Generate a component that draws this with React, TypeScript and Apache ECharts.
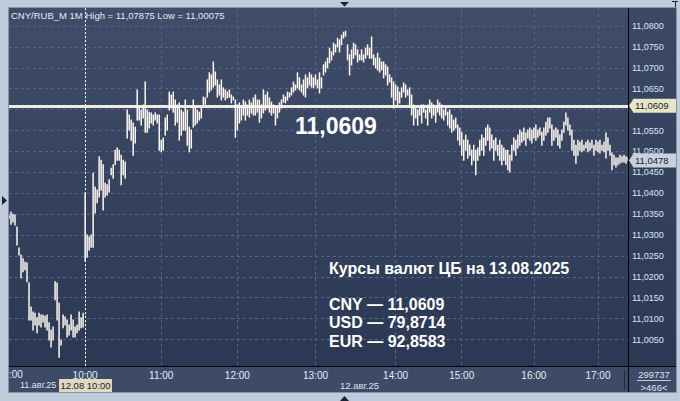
import React, { useEffect, useRef } from 'react';
import * as echarts from 'echarts';

// ---------- data ----------
const pairName = 'CNY/RUB_M';
const timeframe = '1M';
const dayHigh = 11.07875;
const dayLow = 11.00075;
const lastPrice = 11.0478;

const hourLabels = ['23:00', '10:00', '11:00', '12:00', '13:00', '14:00', '15:00', '16:00', '17:00'];
const barsPerHour = [38, 38, 38, 39, 40, 33, 36, 32, 16];
const cutHourLabel = ':00';

const highs = [
  // 23h (prev. day)
  11.0346, 11.0355, 11.0350, 11.0348, 11.0319, 11.0269, 11.0252, 11.0243, 11.0235, 11.0233,
  11.0185, 11.0128, 11.0116, 11.0113, 11.0102, 11.0113, 11.0109, 11.0109, 11.0106, 11.0109,
  11.0090, 11.0073, 11.0080, 11.0188, 11.0185, 11.0137, 11.0049, 11.0109, 11.0104, 11.0097,
  11.0085, 11.0109, 11.0097, 11.0080, 11.0085, 11.0116, 11.0102, 11.0113,
  // 10h
  11.0400, 11.0300, 11.0295, 11.0300, 11.0448, 11.0415, 11.0408, 11.0487, 11.0479, 11.0468,
  11.0424, 11.0420, 11.0432, 11.0460, 11.0468, 11.0503, 11.0508, 11.0503, 11.0491, 11.0479,
  11.0475, 11.0599, 11.0587, 11.0575, 11.0568, 11.0558, 11.0647, 11.0606, 11.0599, 11.0611,
  11.0666, 11.0599, 11.0594, 11.0592, 11.0587, 11.0592, 11.0587, 11.0587,
  // 11h
  11.0527, 11.0532, 11.0580, 11.0587, 11.0642, 11.0635, 11.0642, 11.0623, 11.0611, 11.0616,
  11.0599, 11.0594, 11.0623, 11.0599, 11.0558, 11.0551, 11.0623, 11.0604, 11.0599, 11.0594,
  11.0604, 11.0630, 11.0628, 11.0671, 11.0688, 11.0683, 11.0714, 11.0690, 11.0671, 11.0659,
  11.0671, 11.0652, 11.0647, 11.0642, 11.0647, 11.0635, 11.0630, 11.0623,
  // 12h
  11.0611, 11.0616, 11.0604, 11.0623, 11.0618, 11.0611, 11.0623, 11.0616, 11.0628, 11.0635,
  11.0623, 11.0623, 11.0611, 11.0647, 11.0635, 11.0642, 11.0628, 11.0618, 11.0611, 11.0606,
  11.0604, 11.0616, 11.0623, 11.0635, 11.0630, 11.0642, 11.0640, 11.0652, 11.0666, 11.0659,
  11.0688, 11.0676, 11.0659, 11.0671, 11.0683, 11.0676, 11.0688, 11.0683, 11.0676,
  // 13h
  11.0683, 11.0671, 11.0688, 11.0676, 11.0707, 11.0714, 11.0723, 11.0747, 11.0738, 11.0759,
  11.0755, 11.0771, 11.0767, 11.0778, 11.0785, 11.07875, 11.0755, 11.0731, 11.0743, 11.0759,
  11.0755, 11.0743, 11.0731, 11.0743, 11.0731, 11.0747, 11.0755, 11.0747, 11.0774, 11.0731,
  11.0723, 11.0735, 11.0723, 11.0714, 11.0714, 11.0707, 11.0702, 11.0683, 11.0676, 11.0666,
  // 14h
  11.0659, 11.0654, 11.0642, 11.0652, 11.0664, 11.0659, 11.0647, 11.0652, 11.0635, 11.0611,
  11.0604, 11.0599, 11.0604, 11.0611, 11.0611, 11.0599, 11.0611, 11.0623, 11.0616, 11.0611,
  11.0604, 11.0623, 11.0616, 11.0611, 11.0599, 11.0604, 11.0594, 11.0599, 11.0587, 11.0575,
  11.0580, 11.0563, 11.0556,
  // 15h
  11.0546, 11.0527, 11.0539, 11.0527, 11.0515, 11.0503, 11.0515, 11.0503, 11.0508, 11.0527,
  11.0539, 11.0532, 11.0556, 11.0563, 11.0556, 11.0539, 11.0527, 11.0532, 11.0515, 11.0527,
  11.0515, 11.0508, 11.0503, 11.0503, 11.0491, 11.0515, 11.0532, 11.0527, 11.0539, 11.0551,
  11.0546, 11.0556, 11.0544, 11.0551, 11.0556, 11.0551,
  // 16h
  11.0556, 11.0563, 11.0551, 11.0556, 11.0546, 11.0556, 11.0570, 11.0580, 11.0580, 11.0563,
  11.0551, 11.0556, 11.0551, 11.0539, 11.0551, 11.0570, 11.0592, 11.0580, 11.0563, 11.0551,
  11.0527, 11.0515, 11.0527, 11.0522, 11.0527, 11.0515, 11.0522, 11.0527, 11.0520, 11.0527,
  11.0515, 11.0527,
  // 17h
  11.0522, 11.0527, 11.0515, 11.0522, 11.0544, 11.0532, 11.0515, 11.0496, 11.0491, 11.0484,
  11.0484, 11.0491, 11.0487, 11.0491, 11.0487, 11.0484,
];

const lows = [
  // 23h (prev. day)
  11.0341, 11.0326, 11.0331, 11.0324, 11.0276, 11.0252, 11.0197, 11.0212, 11.0217, 11.0188,
  11.0097, 11.0097, 11.0073, 11.0085, 11.0066, 11.0085, 11.0080, 11.0092, 11.0080, 11.0073,
  11.0049, 11.0032, 11.0049, 11.0145, 11.0097, 11.00075, 11.0037, 11.0078, 11.0085, 11.0056,
  11.0061, 11.0073, 11.0056, 11.0056, 11.0066, 11.0073, 11.0078, 11.0080,
  // 10h
  11.0238, 11.0247, 11.0264, 11.0271, 11.0271, 11.0353, 11.0377, 11.0391, 11.0408, 11.0360,
  11.0391, 11.0396, 11.0403, 11.0444, 11.0436, 11.0468, 11.0479, 11.0479, 11.0420, 11.0444,
  11.0436, 11.0532, 11.0551, 11.0527, 11.0491, 11.0520, 11.0575, 11.0575, 11.0563, 11.0580,
  11.0546, 11.0546, 11.0556, 11.0568, 11.0563, 11.0575, 11.0568, 11.0503,
  // 11h
  11.0499, 11.0503, 11.0539, 11.0551, 11.0599, 11.0604, 11.0594, 11.0563, 11.0570, 11.0527,
  11.0539, 11.0551, 11.0551, 11.0515, 11.0499, 11.0508, 11.0558, 11.0563, 11.0568, 11.0575,
  11.0580, 11.0611, 11.0613, 11.0630, 11.0642, 11.0647, 11.0654, 11.0659, 11.0630, 11.0635,
  11.0623, 11.0630, 11.0623, 11.0628, 11.0630, 11.0616, 11.0623, 11.0534,
  // 12h
  11.0551, 11.0568, 11.0575, 11.0587, 11.0575, 11.0587, 11.0582, 11.0592, 11.0587, 11.0587,
  11.0594, 11.0570, 11.0580, 11.0592, 11.0599, 11.0604, 11.0594, 11.0587, 11.0592, 11.0563,
  11.0580, 11.0594, 11.0604, 11.0618, 11.0616, 11.0623, 11.0630, 11.0635, 11.0642, 11.0647,
  11.0652, 11.0647, 11.0642, 11.0635, 11.0630, 11.0652, 11.0659, 11.0654, 11.0652,
  // 13h
  11.0659, 11.0652, 11.0640, 11.0652, 11.0683, 11.0690, 11.0700, 11.0712, 11.0719, 11.0731,
  11.0738, 11.0750, 11.0738, 11.0755, 11.0771, 11.0776, 11.0719, 11.0683, 11.0707, 11.0723,
  11.0731, 11.0714, 11.0719, 11.0719, 11.0714, 11.0723, 11.0731, 11.0723, 11.0723, 11.0707,
  11.0700, 11.0695, 11.0690, 11.0695, 11.0676, 11.0683, 11.0659, 11.0666, 11.0630, 11.0604,
  // 14h
  11.0623, 11.0611, 11.0616, 11.0630, 11.0642, 11.0630, 11.0635, 11.0611, 11.0587, 11.0563,
  11.0580, 11.0563, 11.0587, 11.0568, 11.0594, 11.0580, 11.0563, 11.0594, 11.0580, 11.0587,
  11.0570, 11.0594, 11.0587, 11.0580, 11.0575, 11.0587, 11.0563, 11.0556, 11.0546, 11.0551,
  11.0556, 11.0527, 11.0515,
  // 15h
  11.0491, 11.0479, 11.0503, 11.0484, 11.0491, 11.0468, 11.0479, 11.0444, 11.0479, 11.0491,
  11.0503, 11.0491, 11.0515, 11.0527, 11.0503, 11.0508, 11.0479, 11.0503, 11.0491, 11.0479,
  11.0468, 11.0479, 11.0468, 11.0456, 11.0451, 11.0479, 11.0503, 11.0491, 11.0508, 11.0515,
  11.0522, 11.0527, 11.0515, 11.0532, 11.0527, 11.0520,
  // 16h
  11.0532, 11.0527, 11.0534, 11.0539, 11.0515, 11.0527, 11.0539, 11.0546, 11.0556, 11.0515,
  11.0527, 11.0534, 11.0515, 11.0508, 11.0527, 11.0546, 11.0563, 11.0551, 11.0539, 11.0503,
  11.0491, 11.0472, 11.0491, 11.0503, 11.0499, 11.0503, 11.0508, 11.0499, 11.0503, 11.0508,
  11.0491, 11.0503,
  // 17h
  11.0499, 11.0496, 11.0503, 11.0499, 11.0484, 11.0503, 11.0491, 11.0456, 11.0468, 11.0463,
  11.0468, 11.0472, 11.0475, 11.0475, 11.0472, 11.0478,
];

const cbTitle = 'Курсы валют ЦБ на 13.08.2025';
const rateCodes = ['CNY', 'USD', 'EUR'];
const rateValues = [11.0609, 79.8714, 92.8583];

const yMin = 10.99867;
const yMax = 11.08431;
const yStep = 0.005;

const prevDayLabel = '11.авг.25';
const curDayLabel = '12.авг.25';
const cursorLabel = '12.08 10:00';
const volumeLabel = '299737';
const barsLabel = '>466<';

// ---------- helpers ----------
const fmt = (v: number, d: number) => Number(v).toFixed(d).replace('.', ',');

const categories: string[] = [];
const hourStarts: number[] = [];
hourLabels.forEach((h, k) => {
  hourStarts.push(categories.length);
  for (let j = 0; j < barsPerHour[k]; j++) {
    categories.push(j === 0 ? h : `${h.slice(0, 3)}${String(j).padStart(2, '0')}`);
  }
});

const FONT = '"Liberation Sans", Arial, sans-serif';
const FRAME = '#bfcbdb';
const GRID_COLOR = '#55658a';

export default function App() {
  const ref = useRef<HTMLDivElement>(null);

  useEffect(() => {
    const chart = echarts.init(ref.current!, undefined, { renderer: 'svg', width: 680, height: 401 });

    const splitColors: string[] = [];
    for (let k = 0; k < 19; k++) splitColors.push(GRID_COLOR);
    splitColors[0] = 'rgba(0,0,0,0)';
    splitColors[1] = 'rgba(0,0,0,0)';
    splitColors[18] = 'rgba(0,0,0,0)';

    const plotGrad = new echarts.graphic.LinearGradient(0, 0, 0, 1, [
      { offset: 0, color: '#3f4d69' },
      { offset: 1, color: '#2b3853' },
    ]);
    const axisGrad = new echarts.graphic.LinearGradient(0, 0, 0, 1, [
      { offset: 0, color: '#3b4964' },
      { offset: 1, color: '#2c3954' },
    ]);

    const txt = (x: number, y: number, text: string, size: number, opts: any = {}) => ({
      type: 'text',
      x,
      y,
      z: 100,
      style: {
        text,
        fill: opts.fill || '#e4eaf4',
        font: `${opts.bold ? 'bold ' : ''}${size}px ${opts.family || FONT}`,
        align: opts.align || 'left',
        verticalAlign: 'middle',
      },
    });

    const tagLabel = (bg: string) => ({
      show: true,
      position: 'end',
      distance: 5,
      formatter: (p: any) => fmt(p.value, 4),
      backgroundColor: bg,
      color: '#1a2030',
      fontSize: 9.5,
      fontFamily: FONT,
      padding: [2, 8, 2, 2],
    });

    const baseGraphics: any[] = [
      // backgrounds
      { type: 'rect', z: -10, shape: { x: 9, y: 8, width: 619, height: 358 }, style: { fill: plotGrad } },
      { type: 'rect', z: -10, shape: { x: 629, y: 8, width: 47, height: 358 }, style: { fill: axisGrad } },
      { type: 'rect', z: -10, shape: { x: 9, y: 367, width: 667, height: 25 }, style: { fill: '#3d4b67' } },
      // border
      { type: 'rect', z: 60, shape: { x: 8.5, y: 7.5, width: 668, height: 385 }, style: { fill: 'none', stroke: '#8593a8', lineWidth: 1 } },
      // axis line extensions
      { type: 'line', z: 60, shape: { x1: 628.5, y1: 366, x2: 628.5, y2: 392 }, style: { stroke: '#000', lineWidth: 1 } },
      { type: 'line', z: 60, shape: { x1: 628, y1: 366.5, x2: 676, y2: 366.5 }, style: { stroke: '#000', lineWidth: 1 } },
      { type: 'line', z: 60, shape: { x1: 624.5, y1: 370, x2: 624.5, y2: 390 }, style: { stroke: '#222b3a', lineWidth: 1 } },
      // triangles
      { type: 'polygon', z: 60, shape: { points: [[340, 2], [349, 2], [344.5, 6.5]] }, style: { fill: '#1c2433' } },
      { type: 'polygon', z: 60, shape: { points: [[340, 401], [349, 401], [344.5, 396]] }, style: { fill: '#1c2433' } },
      { type: 'polygon', z: 60, shape: { points: [[2, 196], [2, 205], [7, 200.5]] }, style: { fill: '#1c2433' } },
      { type: 'line', z: 60, shape: { x1: 672, y1: 1.5, x2: 678, y2: 1.5 }, style: { stroke: '#1c2433', lineWidth: 1 } },
      { type: 'line', z: 60, shape: { x1: 675.5, y1: 1, x2: 675.5, y2: 7 }, style: { stroke: '#1c2433', lineWidth: 1 } },
      // header
      txt(11, 15, `${pairName} ${timeframe} High = ${fmt(dayHigh, 5)} Low = ${fmt(dayLow, 5)}`, 9.5),
      // big value
      txt(295, 126, fmt(rateValues[0], 4), 23, { bold: true, fill: '#ffffff' }),
      // CB rates block
      txt(329, 268, cbTitle, 16, { bold: true, fill: '#ffffff' }),
      ...rateCodes.map((c, k) => txt(329, 304 + k * 18.7, `${c} — ${fmt(rateValues[k], 4)}`, 16, { bold: true, fill: '#ffffff' })),
      // bottom labels
      txt(9, 374, cutHourLabel, 10, { fill: '#e6ecf6' }),
      txt(20, 385, prevDayLabel, 9, { fill: '#dde4ee' }),
      { type: 'rect', z: 90, shape: { x: 59, y: 379, width: 53, height: 13 }, style: { fill: '#dedac0' } },
      txt(85.5, 385.5, cursorLabel, 9.5, { fill: '#1a1e28', align: 'center' }),
      txt(340, 385, curDayLabel, 9.5, { fill: '#dde4ee' }),
      txt(654, 374, volumeLabel, 9.5, { fill: '#dde4ee', align: 'center' }),
      { type: 'line', z: 90, shape: { x1: 637, y1: 380.5, x2: 671, y2: 380.5 }, style: { stroke: '#c0cad8', lineWidth: 1 } },
      txt(654, 387, barsLabel, 9.5, { fill: '#dde4ee', align: 'center' }),
    ];

    const option: any = {
      animation: false,
      backgroundColor: FRAME,
      grid: { left: 9, right: 52, top: 8, bottom: 35, containLabel: false, outerBoundsMode: 'none' },
      xAxis: {
        type: 'category',
        data: categories,
        boundaryGap: false,
        axisLine: { show: true, lineStyle: { color: '#000', width: 1 } },
        axisTick: { show: false },
        axisLabel: {
          interval: (idx: number) => hourStarts.includes(idx) && idx !== 0,
          color: '#e6ecf6',
          fontSize: 10,
          fontFamily: FONT,
          margin: 4,
        },
        splitLine: {
          show: true,
          interval: (idx: number) => hourStarts.includes(idx) && idx !== 0,
          lineStyle: { color: GRID_COLOR, type: [3, 3], width: 1 },
        },
      },
      yAxis: {
        type: 'value',
        position: 'right',
        min: yMin,
        max: yMax,
        splitNumber: 17,
        minInterval: yStep,
        maxInterval: yStep,
        axisLine: { show: true, lineStyle: { color: '#000', width: 1 } },
        axisTick: { show: false },
        axisLabel: {
          color: '#dbe5f4',
          fontSize: 9,
          fontFamily: FONT,
          margin: 4,
          formatter: (v: number) => {
            const k = Math.round(v / yStep);
            if (Math.abs(v - k * yStep) > 1e-6) return '';
            if (v < 11.004) return '';
            if (Math.abs(v - rateValues[0]) < 0.0015) return '';
            return fmt(v, 4);
          },
        },
        splitLine: { show: true, lineStyle: { color: splitColors, type: [3, 3], width: 1 } },
      },
      series: [
        {
          type: 'custom',
          data: highs.map((h, i) => [i, lows[i], h]),
          encode: { x: 0, y: [1, 2] },
          clip: true,
          z: 5,
          renderItem: (params: any, api: any) => {
            const i = api.value(0);
            const p1 = api.coord([i, api.value(1)]);
            const p2 = api.coord([i, api.value(2)]);
            const x = p1[0];
            let y1 = p1[1] + 0.5;
            let y2 = p2[1] - 0.5;
            if (y1 - y2 < 1.5) { y1 += 0.5; y2 -= 0.5; }
            return {
              type: 'line',
              shape: { x1: x, y1, x2: x, y2 },
              style: { stroke: '#fdf7f0', lineWidth: 1.5 },
            };
          },
          markLine: {
            silent: true,
            symbol: 'none',
            animation: false,
            precision: 5,
            data: [
              {
                yAxis: rateValues[0],
                lineStyle: { color: '#efebe4', width: 3, type: 'solid' },
                label: tagLabel('#e6e6c6'),
              },
              {
                yAxis: lastPrice,
                lineStyle: { color: 'rgba(0,0,0,0)', width: 0 },
                label: tagLabel('#c9d1dd'),
              },
              {
                xAxis: hourLabels[1],
                lineStyle: { color: '#ffffff', width: 1, type: [2, 2] },
                label: { show: false },
              },
            ],
          },
        },
      ],
      graphic: baseGraphics,
    };

    chart.setOption(option);

    // arrow heads of the price tags, placed through the y scale
    const arrow = (v: number, fill: string) => {
      const y = chart.convertToPixel({ yAxisIndex: 0 }, v) as number;
      return { type: 'polygon', z: 100, shape: { points: [[629, y], [633.5, y - 7], [633.5, y + 7]] }, style: { fill } };
    };
    chart.setOption({ graphic: [...baseGraphics, arrow(rateValues[0], '#e6e6c6'), arrow(lastPrice, '#c9d1dd')] });

    return () => chart.dispose();
  }, []);

  return <div ref={ref} style={{ position: 'absolute', left: 0, top: 0, width: 680, height: 401 }} />;
}
